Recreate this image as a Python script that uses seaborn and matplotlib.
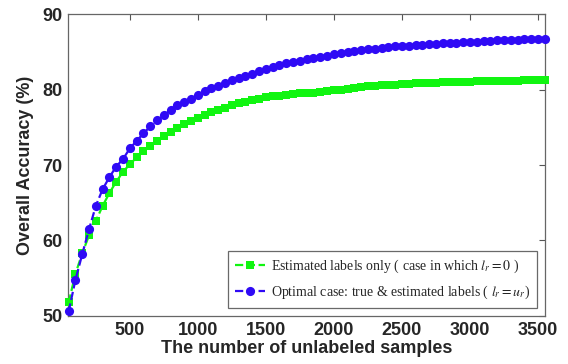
import matplotlib
matplotlib.use("Agg")
import matplotlib.pyplot as plt
import seaborn as sns
import pandas as pd
import numpy as np

# ---- data ----
samples = list(range(50, 3551, 50))
optimal_acc = [
    50.6, 54.8, 58.2, 61.5, 64.6, 66.8, 68.4, 69.8, 70.8, 72.2,
    73.2, 74.2, 75.1, 75.9, 76.6, 77.3, 77.9, 78.4, 78.8, 79.3,
    79.75, 80.15, 80.5, 80.9, 81.2, 81.5, 81.8, 82.1, 82.4, 82.7,
    83.0, 83.25, 83.45, 83.65, 83.8, 84.0, 84.2, 84.35, 84.5, 84.65,
    84.8, 84.95, 85.1, 85.2, 85.3, 85.4, 85.5, 85.6, 85.7, 85.75,
    85.8, 85.9, 85.95, 86.0, 86.05, 86.1, 86.15, 86.2, 86.25, 86.3,
    86.35, 86.4, 86.45, 86.5, 86.55, 86.6, 86.62, 86.65, 86.7, 86.72,
    86.75,
]
estimated_acc = [
    51.8, 55.6, 58.3, 60.7, 62.6, 64.6, 66.3, 67.8, 69.1, 70.1,
    71.0, 71.8, 72.5, 73.2, 73.8, 74.4, 74.9, 75.4, 75.8, 76.2,
    76.6, 77.0, 77.3, 77.6, 77.9, 78.2, 78.4, 78.6, 78.8, 79.0,
    79.1, 79.2, 79.3, 79.4, 79.5, 79.55, 79.6, 79.7, 79.8, 79.9,
    80.0, 80.1, 80.2, 80.3, 80.4, 80.5, 80.55, 80.6, 80.65, 80.7,
    80.75, 80.8, 80.85, 80.9, 80.92, 80.95, 80.97, 81.0, 81.02, 81.05,
    81.07, 81.1, 81.12, 81.14, 81.15, 81.17, 81.18, 81.2, 81.2, 81.22,
    81.24,
]
x_ticks = [500, 1000, 1500, 2000, 2500, 3000, 3500]
y_ticks = [50, 60, 70, 80, 90]
label_est = r"Estimated labels only ( case in which $l_r = 0$ )"
label_opt = r"Optimal case: true & estimated labels ( $l_r = u_r$)"

sns.set_style("white")
plt.rcParams["font.family"] = ["Liberation Sans", "DejaVu Sans"]
plt.rcParams["mathtext.fontset"] = "stix"

fig = plt.figure(figsize=(5.68, 3.64), dpi=100)
ax = fig.add_axes([0.1197, 0.1319, 0.8398, 0.8296])

df_est = pd.DataFrame({"x": samples, "y": estimated_acc})
df_opt = pd.DataFrame({"x": samples, "y": optimal_acc})

green = "#11f511"
blue = "#2f0af5"
sns.lineplot(data=df_est, x="x", y="y", ax=ax, color=green, linestyle="--",
             linewidth=1.6, marker="s", markersize=5.2, markeredgewidth=0,
             label=label_est, clip_on=False, zorder=3)
sns.lineplot(data=df_opt, x="x", y="y", ax=ax, color=blue, linestyle="--",
             linewidth=1.6, marker="o", markersize=6.6, markeredgewidth=0,
             label=label_opt, clip_on=False, zorder=4)

ax.set_xlim(45, 3552)
ax.set_ylim(50, 90)
ax.set_xticks(x_ticks)
ax.set_yticks(y_ticks)
ax.set_xticklabels([str(t) for t in x_ticks], fontsize=13, fontweight="bold")
ax.set_yticklabels([str(t) for t in y_ticks], fontsize=13, fontweight="bold")
ax.tick_params(direction="in", length=4, width=0.8, color="#555555",
               top=True, right=True, pad=4)
for s in ax.spines.values():
    s.set_color("#666666")
    s.set_linewidth(0.9)
ax.set_xlabel("The number of unlabeled samples", fontsize=13, fontweight="bold", labelpad=1)
ax.set_ylabel("Overall Accuracy (%)", fontsize=13, fontweight="bold", labelpad=6)

leg = ax.legend(loc="lower right", prop={"family": "Liberation Serif", "size": 10},
                frameon=True, fancybox=False, borderpad=0.5, handlelength=2.2,
                handletextpad=0.4, labelspacing=0.6, borderaxespad=0.6)
leg.get_frame().set_edgecolor("#444444")
leg.get_frame().set_linewidth(0.9)

fig.savefig("out.png", dpi=100)
